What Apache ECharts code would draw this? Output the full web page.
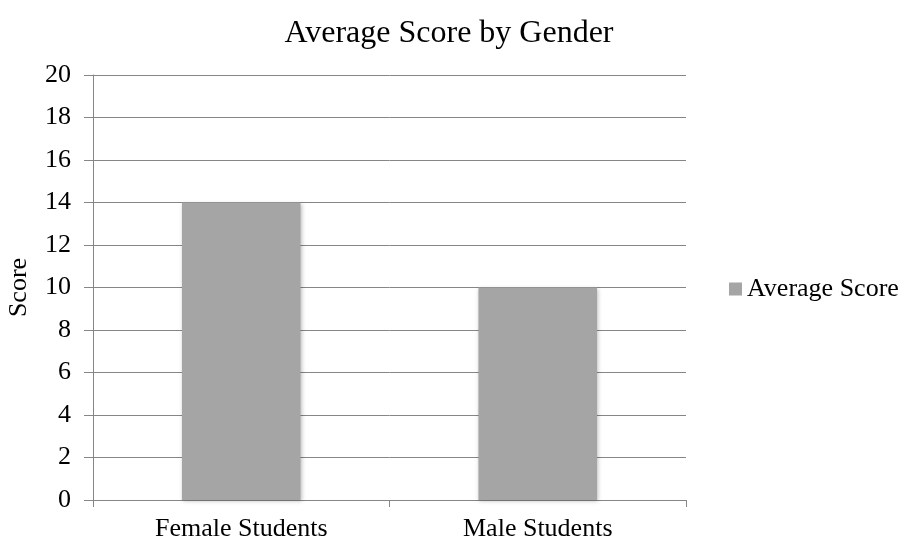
<!DOCTYPE html>
<html><head><meta charset="utf-8">
<script src="https://cdn.jsdelivr.net/npm/echarts@6/dist/echarts.min.js"></script>
<style>html,body{margin:0;padding:0;background:#fff}#c{width:908px;height:540px}</style>
</head><body><div id="c"></div>
<script>
const categories = ["Female Students", "Male Students"];
const seriesName = "Average Score";
const scores = [14, 10];
const yTicks = {min: 0, max: 20, interval: 2};

const font = "'Liberation Serif', 'Times New Roman', serif";
const chart = echarts.init(document.getElementById('c'));
chart.setOption({
  animation: false,
  textStyle: {fontFamily: font},
  title: {text: "Average Score by Gender", left: 449, top: 18, textAlign: 'center', padding: 0,
    textStyle: {fontFamily: font, fontSize: 32, fontWeight: 'normal', color: '#000'}},
  legend: {orient: 'vertical', left: 729, top: 276, padding: 0, itemWidth: 13, itemHeight: 13, itemGap: 5,
    icon: 'rect', textStyle: {fontFamily: font, fontSize: 26, color: '#000'}},
  grid: {left: 93, right: 222, top: 75, bottom: 40, containLabel: false, outerBoundsMode: 'none'},
  xAxis: {type: 'category', data: categories,
    axisLine: {lineStyle: {color: '#868686', width: 1}},
    axisTick: {show: true, alignWithLabel: false, length: 7, lineStyle: {color: '#868686'}},
    axisLabel: {fontFamily: font, fontSize: 26, color: '#000', margin: 16}},
  yAxis: {type: 'value', min: yTicks.min, max: yTicks.max, interval: yTicks.interval,
    name: 'Score', nameLocation: 'middle', nameGap: 61, nameRotate: 90,
    nameTextStyle: {fontFamily: font, fontSize: 26, color: '#000'},
    axisLine: {show: true, lineStyle: {color: '#868686', width: 1}},
    axisTick: {show: true, length: 9, lineStyle: {color: '#868686'}},
    axisLabel: {fontFamily: font, fontSize: 26, color: '#000', margin: 22},
    splitLine: {lineStyle: {color: '#868686', width: 1}}},
  series: [{name: seriesName, type: 'bar', data: scores, barWidth: '40%',
    itemStyle: {color: '#a5a5a5', shadowColor: 'rgba(0,0,0,0.25)', shadowBlur: 4, shadowOffsetX: 1, shadowOffsetY: 1}}]
});
</script></body></html>
